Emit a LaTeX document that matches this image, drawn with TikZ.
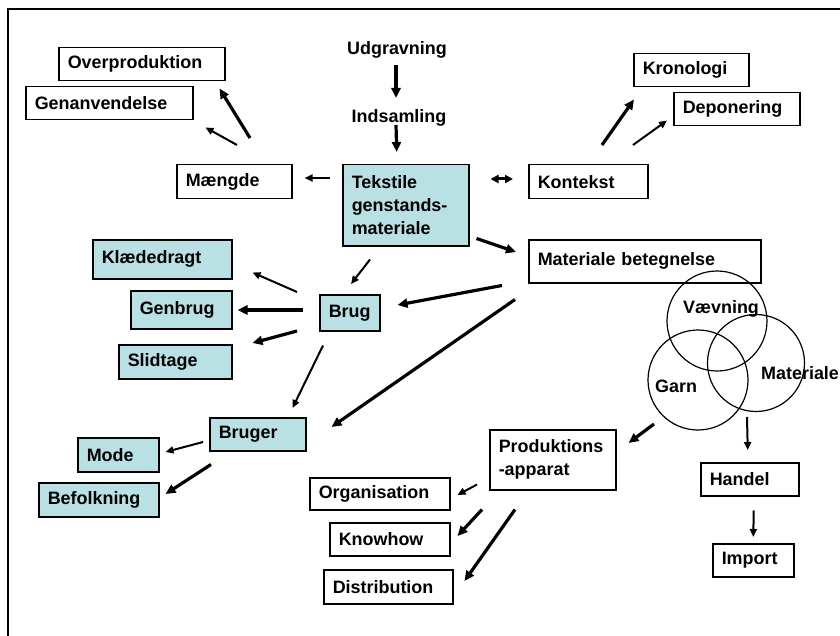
\documentclass[tikz,border=0pt]{standalone}
\usepackage{fontspec}
\setmainfont{Liberation Sans}
\usetikzlibrary{arrows.meta}

\newlength{\du}
\setlength{\du}{1bp}
\definecolor{lyseblaa}{RGB}{185,224,227}

\tikzset{
  kasse/.style 2 args={draw, line width=1.5\du, anchor=north west, inner xsep=9\du,
    inner ysep=0pt, text width=#1\du-18\du, minimum height=#2\du, align=left},
  blaa/.style 2 args={kasse={#1}{#2}, fill=lyseblaa},
  ring/.style={circle, draw, line width=1.2\du, minimum size=#1\du, inner sep=0pt},
  etiket/.style={anchor=base west, inner sep=0pt},
  pil/.style={-{Triangle[length=8bp,width=7bp]}, line width=2\du},
  tykpil/.style={-{Triangle[length=10bp,width=9bp]}, line width=3.2\du},
  dobbeltpil/.style={{Triangle[length=8bp,width=8bp]}-{Triangle[length=8bp,width=8bp]}, line width=3\du}
}

\begin{document}
\begin{tikzpicture}[x=1\du, y=-1\du, font=\bfseries\fontsize{18}{23}\selectfont]
\useasboundingbox (0,0) rectangle (840,636);
% ramme
\draw[line width=2.5\du] (8,9) rectangle (850,650);

% kasser venstre
\node[kasse={166}{33}] (overprod) at (58,47) {Overproduktion};
\node[kasse={167}{33}] (genanv) at (25,86) {Genanvendelse};
\node[kasse={115}{34}] (maengde) at (176,164) {Mængde};
\node[blaa={126}{81}] (tekstil) at (342,164) {Tekstile\\genstands-\\materiale};
\node[blaa={139}{39}] (klaede) at (92,239) {Klædedragt};
\node[blaa={101}{38}] (genbrug) at (130,290) {Genbrug};
\node[blaa={60}{36}] (brug) at (319,294) {Brug};
\node[blaa={113}{34}] (slid) at (118,344) {Slidtage};
\node[blaa={96}{33}] (bruger) at (209,417) {Bruger};
\node[blaa={81}{34}] (mode) at (77,437) {Mode};
\node[blaa={120}{34}] (befolk) at (38,482) {Befolkning};

% kasser hoejre
\node[kasse={119}{34}] (kontekst) at (528,164) {Kontekst};
\node[kasse={115}{33}] (kronologi) at (633,53) {Kronologi};
\node[kasse={126}{33}] (deponering) at (673,92) {Deponering};
\node[kasse={232}{43}] (matbet) at (528,239) {Materiale betegnelse};
\node[kasse={126}{60}] (prodapp) at (489,429) {Produktions\\-apparat};
\node[kasse={140}{32}] (organ) at (309,477) {Organisation};
\node[kasse={120}{33}] (knowhow) at (329,522) {Knowhow};
\node[kasse={129}{34}] (distrib) at (323,569) {Distribution};
\node[kasse={98}{33}] (handel) at (700,462) {Handel};
\node[kasse={81}{33}] (import) at (712,543) {Import};

% tekst uden kasse
\node[anchor=base, inner sep=0pt] (udgr) at (397,55) {Udgravning};
\node[anchor=base, inner sep=0pt] (inds) at (399,123) {Indsamling};

% venn
\node[ring=100] (vaevc) at (717,321) {};
\node[ring=100] (garnc) at (698,380) {};
\node[ring=97] (matc) at (756,363) {};
\node[etiket] (vaev) at (683,313) {Vævning};
\node[etiket] (garn) at (655,392) {Garn};
\node[etiket] (mat) at (761,379) {Materiale};

% pile
\draw[tykpil] ([shift={(-1,10)}]udgr.base) -- ([shift={(-3,-25)}]inds.base);
\draw[tykpil] ([shift={(-3,2)}]inds.base) -- ([shift={(-9,-12)}]tekstil.north);
\draw[pil] ([shift={(-12,14)}]tekstil.north west) -- ([shift={(12,14)}]maengde.north east);
\draw[pil] ([shift={(61,-19)}]maengde.north west) -- ([shift={(12,7)}]genanv.south east);
\draw[tykpil] ([shift={(74,-26)}]maengde.north west) -- ([shift={(-6,7)}]overprod.south east);
\draw[dobbeltpil] ([shift={(21,15)}]tekstil.north east) -- ([shift={(-15,15)}]kontekst.north west);
\draw[tykpil] ([shift={(74,-19)}]kontekst.north west) -- ([shift={(1,12)}]kronologi.south west);
\draw[pil] ([shift={(105,-19)}]kontekst.north west) -- ([shift={(-6,-6)}]deponering.south west);
\draw[tykpil] ([shift={(7,-8)}]tekstil.south east) -- ([shift={(-12,13)}]matbet.north west);
\draw[pil] ([shift={(28,13)}]tekstil.south west) -- ([shift={(32,-10)}]brug.north west);
\draw[pil] ([shift={(-22,-2)}]brug.north west) -- ([shift={(20,-7)}]klaede.south east);
\draw[tykpil] ([shift={(-16,16)}]brug.north west) -- ([shift={(5,20)}]genbrug.north east);
\draw[tykpil] ([shift={(-22,37)}]brug.north west) -- ([shift={(20,-1)}]slid.north east);
\draw[tykpil] ([shift={(-26,2)}]matbet.south west) -- ([shift={(17,11)}]brug.north east);
\draw[tykpil] ([shift={(-13,16)}]matbet.south west) -- ([shift={(25,10)}]bruger.north east);
\draw[pil] ([shift={(4,14)}]brug.south west) -- ([shift={(-14,-9)}]bruger.north east);
\draw[pil] ([shift={(-6,25)}]bruger.north west) -- ([shift={(6,15)}]mode.north east);
\draw[tykpil] ([shift={(2,13)}]bruger.south west) -- ([shift={(6,12)}]befolk.north east);
\draw[tykpil] ([shift={(-44,44)}]garnc.center) -- ([shift={(12,14)}]prodapp.north east);
\draw[pil] ([shift={(-9,54)}]matc.center) -- ([shift={(-2,-12)}]handel.north);
\draw[pil] ([shift={(4,14)}]handel.south) -- ([shift={(0,-6)}]import.north);
\draw[pil] ([shift={(-12,-6)}]prodapp.south west) -- ([shift={(7,18)}]organ.north east);
\draw[tykpil] ([shift={(-7,19)}]prodapp.south west) -- ([shift={(7,14)}]knowhow.north east);
\draw[tykpil] ([shift={(26,19)}]prodapp.south west) -- ([shift={(11,12)}]distrib.north east);
\end{tikzpicture}
\end{document}
